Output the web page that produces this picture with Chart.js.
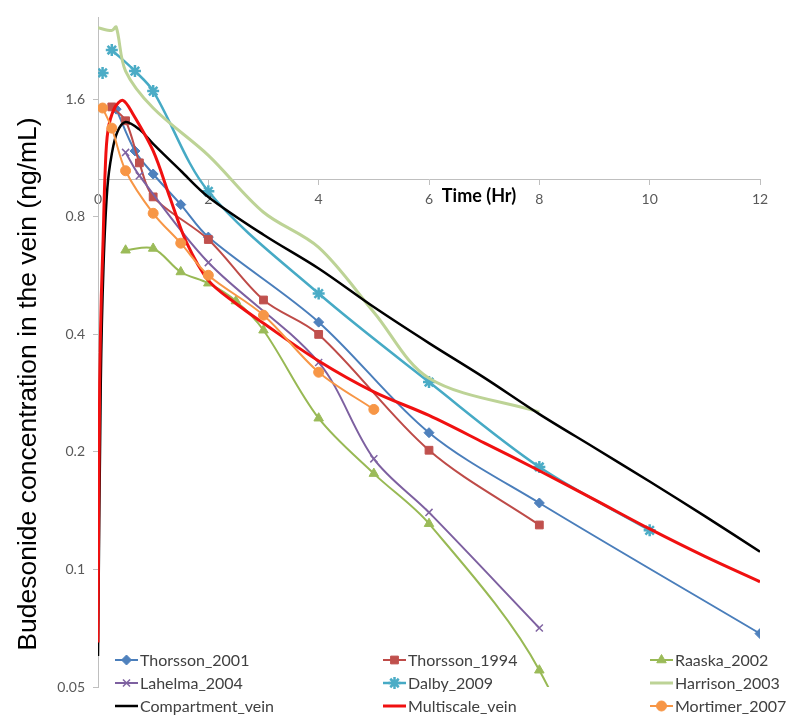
<!DOCTYPE html>
<html>
<head>
<meta charset="utf-8">
<script src="https://cdn.jsdelivr.net/npm/chart.js@4/dist/chart.umd.min.js"></script>
<style>
  html, body { margin: 0; padding: 0; background: #fff; }
  #wrap { width: 800px; height: 725px; position: relative; }
</style>
</head>
<body>
<div id="wrap"><canvas id="c" width="800" height="725"></canvas></div>
<script>
// ---- Data (time in hours, concentration in ng/mL) ----
const yTickValues = [0.05, 0.1, 0.2, 0.4, 0.8, 1.6];
const xTickValues = [0, 2, 4, 6, 8, 10, 12];

const thorsson2001T = [0.33, 0.67, 1, 1.5, 2, 4, 6, 8, 12];
const thorsson2001V = [1.51, 1.18, 1.03, 0.86, 0.71, 0.43, 0.224, 0.148, 0.0685];

const thorsson1994T = [0.25, 0.5, 0.75, 1, 2, 3, 4, 6, 8];
const thorsson1994V = [1.53, 1.41, 1.10, 0.90, 0.70, 0.49, 0.40, 0.202, 0.130];

const raaska2002T = [0.5, 1, 1.5, 2, 2.5, 3, 4, 5, 6, 8, 10];
const raaska2002V = [0.657, 0.664, 0.578, 0.541, 0.487, 0.41, 0.244, 0.176, 0.131, 0.0552, 0.012];

const lahelma2004T = [0.5, 0.75, 2, 4, 5, 6, 8];
const lahelma2004V = [1.17, 1.02, 0.611, 0.339, 0.192, 0.140, 0.0708];

const dalby2009T = [0.083, 0.17, 0.25, 0.67, 1, 2, 4, 6, 8, 10];
const dalby2009V = [1.87, null, 2.14, 1.89, 1.68, 0.93, 0.509, 0.302, 0.183, 0.126];

const harrison2003T = [0, 0.25, 0.33, 0.5, 1, 2, 3, 4, 5, 6, 8];
const harrison2003V = [2.44, 2.40, 2.45, 1.89, 1.52, 1.15, 0.822, 0.668, 0.456, 0.309, 0.253];

const compartmentT = [0, 0.05, 0.1, 0.17, 0.25, 0.35, 0.5, 0.75, 1, 1.5, 2, 3, 4, 5, 6, 7, 8, 9, 10, 11, 12];
const compartmentV = [0.06, 0.3, 0.6, 0.95, 1.16, 1.32, 1.40, 1.34, 1.23, 1.05, 0.90, 0.72, 0.59, 0.47, 0.38, 0.31, 0.25, 0.205, 0.168, 0.137, 0.111];

const multiscaleT = [0, 0.03, 0.06, 0.09, 0.13, 0.18, 0.3, 0.45, 0.63, 1, 1.3, 1.6, 2, 2.5, 3, 4, 5, 6, 7, 8, 9, 10, 11, 12];
const multiscaleV = [0.065, 0.3, 0.5, 0.68, 1.05, 1.33, 1.52, 1.59, 1.47, 1.18, 0.90, 0.69, 0.55, 0.48, 0.427, 0.342, 0.285, 0.248, 0.211, 0.179, 0.151, 0.127, 0.108, 0.093];

const mortimer2007T = [0.083, 0.25, 0.5, 1, 1.5, 2, 3, 4, 5];
const mortimer2007V = [1.52, 1.35, 1.05, 0.817, 0.685, 0.567, 0.448, 0.32, 0.257];

const seriesNames = ['Thorsson_2001', 'Thorsson_1994', 'Raaska_2002', 'Lahelma_2004', 'Dalby_2009',
  'Harrison_2003', 'Compartment_vein', 'Multiscale_vein', 'Mortimer_2007'];

function pts(T, V) { return T.map((t, i) => ({ x: t, y: V[i] })); }

const styles = [
  { color: '#4A7EBB', fill: '#4F81BD', point: 'rectRot', r: 5, bw: 1, lw: 2 },
  { color: '#BE4B48', fill: '#C0504D', point: 'rect', r: 5.5, bw: 1, lw: 2 },
  { color: '#98B954', fill: '#9BBB59', point: 'triangle', r: 5.5, bw: 1, lw: 2 },
  { color: '#7D60A0', fill: '#8064A2', point: 'crossRot', r: 5, bw: 1.5, lw: 2 },
  { color: '#46AAC5', fill: '#4BACC6', point: 'star', r: 6, bw: 2.5, lw: 2.5 },
  { color: '#BDD396', fill: '#BDD396', point: false, r: 0, bw: 0, lw: 3 },
  { color: '#000000', fill: '#000000', point: false, r: 0, bw: 0, lw: 2.5 },
  { color: '#F01010', fill: '#F01010', point: false, r: 0, bw: 0, lw: 3 },
  { color: '#F79646', fill: '#F79646', point: 'circle', r: 5, bw: 1, lw: 2 }
];

const seriesData = [
  pts(thorsson2001T, thorsson2001V),
  pts(thorsson1994T, thorsson1994V),
  pts(raaska2002T, raaska2002V),
  pts(lahelma2004T, lahelma2004V),
  pts(dalby2009T, dalby2009V),
  pts(harrison2003T, harrison2003V),
  pts(compartmentT, compartmentV),
  pts(multiscaleT, multiscaleV),
  pts(mortimer2007T, mortimer2007V)
];

const datasets = seriesNames.map((name, i) => {
  const s = styles[i];
  return {
    label: name,
    data: seriesData[i],
    borderColor: s.color,
    backgroundColor: s.fill,
    borderWidth: s.lw,
    pointStyle: s.point,
    pointRadius: s.r,
    pointHoverRadius: s.r,
    pointBorderColor: s.fill,
    pointBackgroundColor: s.fill,
    pointBorderWidth: s.bw,
    tension: 0.33,
    fill: false,
    spanGaps: false,
    order: 20 - i
  };
});

const titlesAndLegend = {
  id: 'titlesAndLegend',
  afterDraw(chart) {
    const ctx = chart.ctx;
    ctx.save();
    // Y axis title
    ctx.translate(29, 384);
    ctx.rotate(-Math.PI / 2);
    ctx.font = '26.5px "Liberation Sans", Arial, sans-serif';
    ctx.fillStyle = '#000';
    ctx.textAlign = 'center';
    ctx.textBaseline = 'middle';
    ctx.fillText('Budesonide concentration in the vein (ng/mL)', 0, 0);
    ctx.restore();

    // X axis title
    ctx.save();
    ctx.font = 'bold 18px Lato, "Open Sans", sans-serif';
    ctx.fillStyle = '#000';
    ctx.textAlign = 'center';
    ctx.textBaseline = 'middle';
    ctx.fillText('Time (Hr)', 479, 196);
    ctx.restore();

    // Legend (3 columns x 3 rows)
    const colX = [115, 383, 650];
    const rowY = [660, 683, 706];
    ctx.save();
    ctx.font = '16px Lato, "Open Sans", sans-serif';
    ctx.textBaseline = 'middle';
    ctx.textAlign = 'left';
    seriesNames.forEach((name, i) => {
      const s = styles[i];
      const x = colX[i % 3], y = rowY[Math.floor(i / 3)];
      ctx.strokeStyle = s.color;
      ctx.lineWidth = s.lw;
      ctx.beginPath();
      ctx.moveTo(x, y);
      ctx.lineTo(x + 23, y);
      ctx.stroke();
      if (s.point) {
        ctx.fillStyle = s.fill;
        ctx.strokeStyle = s.fill;
        ctx.lineWidth = s.bw;
        Chart.helpers.drawPoint(ctx, { pointStyle: s.point, radius: s.r, rotation: 0, borderWidth: s.bw }, x + 11.5, y);
      }
      ctx.fillStyle = '#404040';
      ctx.fillText(name, x + 25, y + 1);
    });
    ctx.restore();
  }
};

new Chart(document.getElementById('c'), {
  type: 'line',
  data: { datasets },
  options: {
    responsive: false,
    animation: false,
    events: [],
    layout: { padding: { left: 0, right: 40, top: 17, bottom: 38 } },
    plugins: { legend: { display: false }, tooltip: { enabled: false }, title: { display: false } },
    scales: {
      x: {
        type: 'linear',
        min: 0, max: 12,
        position: { y: 1 },
        afterBuildTicks(scale) { scale.ticks = xTickValues.map(v => ({ value: v })); },
        ticks: { color: '#595959', font: { family: 'Lato', size: 14 }, padding: 7, maxRotation: 0, callback: v => String(v) },
        grid: { display: true, drawOnChartArea: false, drawTicks: true, tickLength: 5, color: '#bfbfbf' },
        border: { display: true, color: '#bfbfbf', width: 1 }
      },
      y: {
        type: 'logarithmic',
        min: 0.05, max: 2.6,
        afterBuildTicks(scale) { scale.ticks = yTickValues.map(v => ({ value: v })); },
        afterFit(scale) { scale.width = 98; },
        ticks: { color: '#595959', font: { family: 'Lato', size: 14 }, padding: 8, callback: v => String(v) },
        grid: { display: true, drawOnChartArea: false, drawTicks: true, tickLength: 5, color: '#bfbfbf' },
        border: { display: true, color: '#bfbfbf', width: 1 }
      }
    }
  },
  plugins: [titlesAndLegend]
});
</script>
</body>
</html>
